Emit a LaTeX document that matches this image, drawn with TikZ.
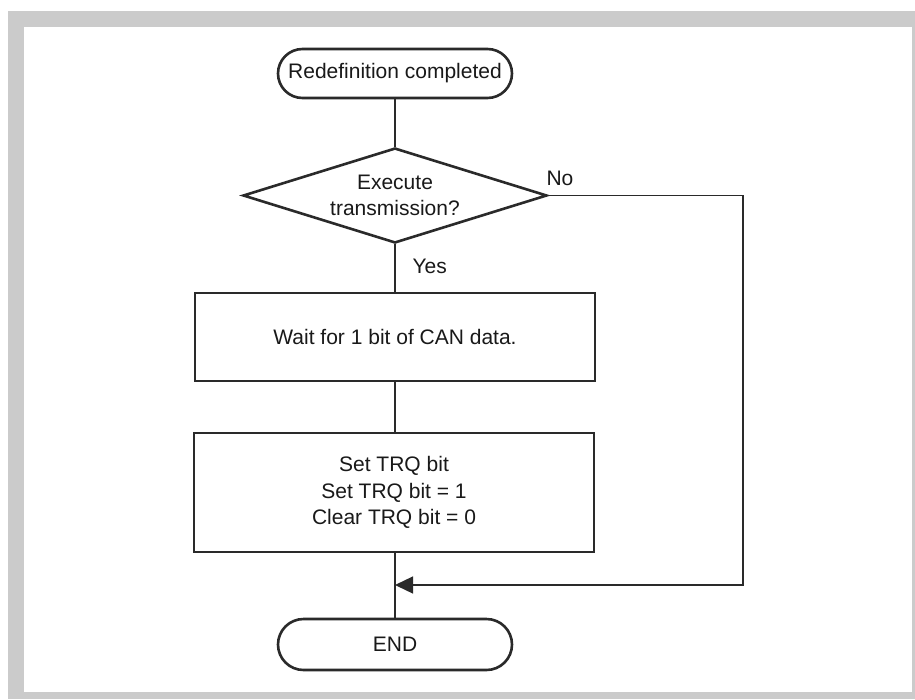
\documentclass[tikz,border=0pt]{standalone}
\usepackage{fontspec}
\setmainfont{Liberation Sans}
\usepackage{tikz}
\usetikzlibrary{arrows.meta}
\usetikzlibrary{shapes.geometric}
\definecolor{framegray}{HTML}{CBCBCB}
\definecolor{inkgray}{HTML}{2A2A2A}
\tikzset{
    flowbox/.style={draw=inkgray, line width=2.6pt, minimum width=400pt, inner sep=0pt, align=center},
    terminal/.style={draw=inkgray, line width=2.6pt, rounded corners=24.5pt, minimum width=234pt, minimum height=49pt, inner sep=0pt},
    decision/.style={draw=inkgray, line width=2.6pt, shape=diamond, aspect=3.2, minimum width=304pt, minimum height=95pt, inner sep=0pt, align=center},
    flowline/.style={-, draw=inkgray, line width=1.3pt},
    flowarrow/.style={-{Triangle[length=18pt,width=17pt]}, draw=inkgray, line width=1.3pt}
}

\begin{document}
\begin{tikzpicture}[x=1pt, y=-1pt, font=\fontsize{21pt}{26.5pt}\selectfont, text=black!90]
    \useasboundingbox (0,0) rectangle (915,699);
    \fill[framegray] (8,11) rectangle (915,699);
    \fill[white] (24,27) rectangle (912,692);

    \node[terminal] (1) at (395,73.5) {Redefinition completed};
    \node[decision] (2) at (395,195.5) {Execute\\transmission?};
    \node[anchor=base] at (560,185) {No};
    \node[anchor=base west] at (409,273) {Yes};
    \node[flowbox, minimum height=88pt] (3) at (395,337) {Wait for 1 bit of CAN data.};
    \node[flowbox, minimum height=119pt] (4) at (394,492.5) {Set TRQ bit\\Set TRQ bit = 1\\Clear TRQ bit = 0};
    \node[terminal, minimum height=51pt, rounded corners=25.5pt] (5) at (395,644.5) {END};

    \coordinate (6) at (395,585);
    \coordinate (7) at (743,585);

    \path [flowline](1) edge (2);
    \path [flowline](2) edge (3);
    \path [flowline](3.south -| 1.south) edge (4.north -| 1.south);
    \path [flowline](4.south -| 1.south) edge (5);
    \draw [flowarrow](2.east) -| (7) -- (6);
\end{tikzpicture}
\end{document}
